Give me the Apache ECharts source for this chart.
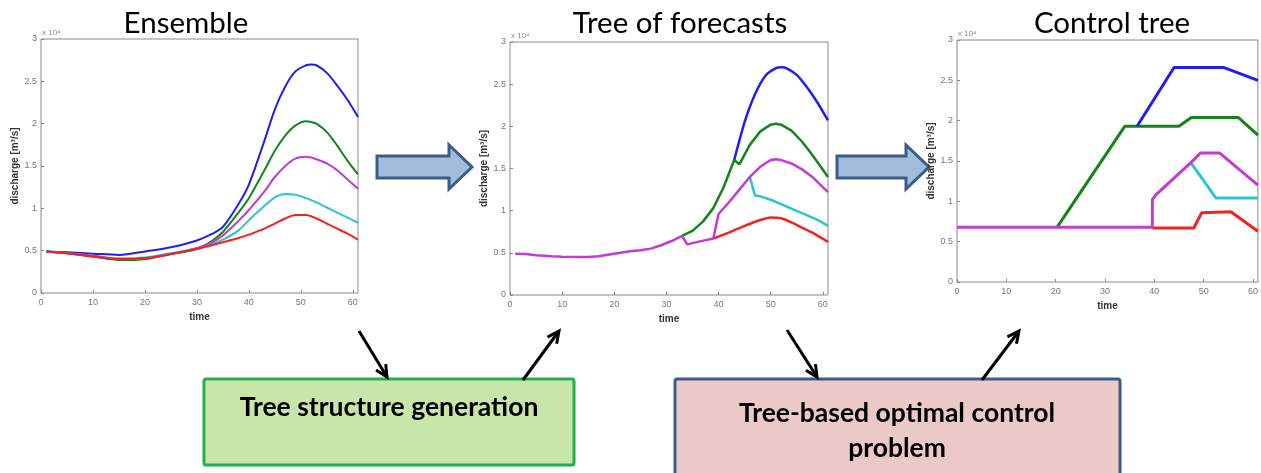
<!DOCTYPE html>
<html lang="en">
<head>
    <meta charset="UTF-8">
    <script src="https://cdn.jsdelivr.net/npm/echarts@6.0.0/dist/echarts.min.js"></script>
    <style>
        html, body { margin: 0; padding: 0; background: #fff; }
    </style>
</head>
<body>
<div id="main" style="width: 1261px;height:473px;"></div>
<script type="text/javascript">

    // panel titles and axis ticks
    var panelTitles = ["Ensemble", "Tree of forecasts", "Control tree"];
    var yTicks = [0, 0.5, 1, 1.5, 2, 2.5, 3];   // x 10^4 m3/s
    var xTicks = [0, 10, 20, 30, 40, 50, 60];

    // Ensemble forecasts [time, discharge x1e4]
    var ensBlue = [[1,0.49],[5,0.48],[10,0.465],[15,0.45],[20,0.49],[25,0.54],[30,0.62],[33,0.70],[35,0.78],[38,1.05],[40,1.28],[43,1.80],[45,2.17],[47,2.44],[49,2.62],[51,2.69],[52,2.70],[53,2.69],[55,2.60],[57,2.45],[59,2.28],[61,2.08]];
    var ensGreen = [[1,0.49],[5,0.47],[10,0.43],[15,0.39],[20,0.40],[25,0.46],[30,0.52],[33,0.62],[35,0.72],[38,0.95],[40,1.12],[43,1.45],[45,1.68],[47,1.86],[49,1.98],[51,2.03],[52,2.02],[53,2.00],[55,1.90],[57,1.74],[59,1.56],[61,1.40]];
    var ensCyan = [[1,0.49],[5,0.47],[10,0.44],[15,0.41],[20,0.42],[25,0.47],[30,0.53],[33,0.58],[35,0.63],[38,0.74],[40,0.86],[43,1.03],[45,1.13],[47,1.17],[49,1.16],[51,1.12],[53,1.07],[55,1.01],[57,0.95],[59,0.89],[61,0.83]];
    var ensMagenta = [[1,0.49],[5,0.47],[10,0.44],[15,0.40],[20,0.41],[25,0.46],[30,0.53],[33,0.60],[35,0.68],[38,0.85],[40,0.98],[43,1.20],[45,1.37],[47,1.50],[49,1.59],[51,1.61],[52,1.60],[53,1.58],[55,1.53],[57,1.45],[59,1.34],[61,1.23]];
    var ensRed = [[1,0.49],[5,0.47],[10,0.43],[15,0.40],[20,0.41],[25,0.46],[30,0.52],[35,0.60],[38,0.65],[40,0.69],[43,0.76],[45,0.82],[47,0.88],[49,0.92],[51,0.92],[53,0.88],[55,0.82],[57,0.76],[59,0.70],[61,0.63]];

    // Tree of forecasts: each branch starts where it leaves its parent
    var treeBlue = [[43,1.60],[45,2.05],[47,2.38],[49,2.60],[51,2.69],[52,2.70],[53,2.69],[55,2.61],[57,2.46],[59,2.28],[61,2.07]];
    var treeGreen = [[33,0.70],[35,0.76],[37,0.87],[39,1.03],[41,1.28],[43,1.60],[44,1.55],[46,1.78],[48,1.94],[50,2.02],[51,2.03],[52,2.02],[54,1.95],[56,1.82],[58,1.66],[61,1.40]];
    var treeRed = [[39,0.67],[42,0.74],[45,0.82],[48,0.89],[50,0.92],[52,0.91],[54,0.86],[56,0.80],[58,0.74],[61,0.63]];
    var treeCyan = [[46,1.40],[47,1.18],[48,1.17],[50,1.13],[53,1.05],[56,0.97],[59,0.89],[61,0.82]];
    var treeMagenta = [[1,0.49],[3,0.485],[5,0.47],[8,0.46],[10,0.455],[13,0.45],[15,0.45],[17,0.46],[20,0.49],[23,0.52],[25,0.53],[27,0.55],[29,0.59],[31,0.64],[33,0.70],[34,0.60],[36,0.63],[39,0.67],[40,0.96],[42,1.10],[44,1.25],[46,1.40],[48,1.52],[50,1.60],[51,1.61],[52,1.60],[54,1.56],[56,1.49],[58,1.40],[60,1.28],[61,1.22]];

    // Control tree (piecewise linear releases)
    var ctrlGreen = [[20.3,0.68],[34,1.93],[45,1.93],[47.5,2.04],[57,2.04],[61,1.82]];
    var ctrlBlue = [[36.5,1.93],[44,2.66],[54,2.66],[61,2.50]];
    var ctrlRed = [[39.6,0.67],[48,0.67],[49.6,0.86],[55.5,0.87],[61,0.63]];
    var ctrlCyan = [[47.4,1.48],[52.5,1.04],[61,1.04]];
    var ctrlMagenta = [[0,0.68],[39.6,0.68],[39.6,1.02],[40.3,1.08],[47.4,1.48],[49.4,1.60],[53.2,1.60],[61,1.20]];

    var colors = { blue: "#1f1ff5", green: "#13851a", red: "#f52020", cyan: "#2cc6c9", magenta: "#c23ccf" };

    var grids = [
        { left: 41, top: 39, width: 317, height: 254 },
        { left: 510, top: 42, width: 318, height: 253 },
        { left: 957, top: 40, width: 302, height: 242 }
    ];

    const chart = echarts.init(document.getElementById("main"));

    function makeXAxis(i) {
        return {
            type: "value", gridIndex: i, min: 0, max: 61, interval: 10,
            name: "time", nameLocation: "middle", nameGap: 18,
            nameTextStyle: { fontSize: 10, color: "#333", fontWeight: "bold", fontFamily: "Liberation Sans" },
            axisLine: { show: false },
            axisTick: { show: true, inside: true, length: 3, lineStyle: { color: "#888" } },
            axisLabel: { showMaxLabel: false, fontSize: 9, color: "#777", margin: 5, fontFamily: "Liberation Sans" },
            splitLine: { show: false }
        };
    }
    function makeYAxis(i) {
        return {
            type: "value", gridIndex: i, min: 0, max: 3, interval: 0.5,
            name: "discharge [m³/s]", nameLocation: "middle", nameGap: 20, nameRotate: 90,
            nameTextStyle: { fontSize: 10, color: "#333", fontWeight: "bold", fontFamily: "Liberation Sans" },
            axisLine: { show: false },
            axisTick: { show: true, inside: true, length: 3, lineStyle: { color: "#888" } },
            axisLabel: { fontSize: 9, color: "#777", margin: 4, fontFamily: "Liberation Sans",
                formatter: function (v) { return yTicks.indexOf(v) >= 0 ? String(v) : ""; } },
            splitLine: { show: false }
        };
    }
    function makeLine(i, data, color, width, smooth) {
        return {
            type: "line", xAxisIndex: i, yAxisIndex: i, data: data,
            showSymbol: false, smooth: smooth, silent: true,
            lineStyle: { color: color, width: width }
        };
    }

    // small black arrow with an open head
    function smallArrow(x1, y1, x2, y2) {
        var ang = Math.atan2(y2 - y1, x2 - x1);
        var hl = 13, ha = 0.45;
        var p1 = [x2 - hl * Math.cos(ang - ha), y2 - hl * Math.sin(ang - ha)];
        var p2 = [x2 - hl * Math.cos(ang + ha), y2 - hl * Math.sin(ang + ha)];
        return [
            { type: "line", shape: { x1: x1, y1: y1, x2: x2, y2: y2 }, style: { stroke: "#000", lineWidth: 3 } },
            { type: "polyline", shape: { points: [p1, [x2, y2], p2] }, style: { stroke: "#000", lineWidth: 3, fill: null } }
        ];
    }
    function blockArrow(x0, xh, xt, yc) {
        return {
            type: "polygon",
            shape: { points: [[x0, yc - 11], [xh, yc - 11], [xh, yc - 22], [xt, yc], [xh, yc + 22], [xh, yc + 11], [x0, yc + 11]] },
            style: { fill: "#a3bcdc", stroke: "#3b5d87", lineWidth: 3 }
        };
    }

    var titleCenters = [181, 675, 1107];
    var x10pos = [[42, 29], [511, 32], [958, 30]];

    var graphics = [
        blockArrow(377, 449, 472, 167),
        blockArrow(837, 906, 929, 167),
        { type: "rect", shape: { x: 204, y: 379, width: 370, height: 86, r: 2 },
          style: { fill: "#c9e5a9", stroke: "#20b14a", lineWidth: 3 } },
        { type: "text", x: 389, y: 407, style: { text: "Tree structure generation", font: "bold 26.5px Lato", fill: "#000", textAlign: "center", textVerticalAlign: "middle" } },
        { type: "rect", shape: { x: 675, y: 379, width: 445, height: 110, r: 2 },
          style: { fill: "#ecc9c9", stroke: "#3b5d87", lineWidth: 3 } },
        { type: "text", x: 897, y: 413, style: { text: "Tree-based optimal control", font: "bold 26.5px Lato", fill: "#000", textAlign: "center", textVerticalAlign: "middle" } },
        { type: "text", x: 897, y: 448, style: { text: "problem", font: "bold 26.5px Lato", fill: "#000", textAlign: "center", textVerticalAlign: "middle" } }
    ];
    graphics = graphics
        .concat(smallArrow(359, 331, 387, 377))
        .concat(smallArrow(523, 380, 559, 331))
        .concat(smallArrow(787, 330, 817, 377))
        .concat(smallArrow(982, 380, 1019, 331));
    x10pos.forEach(function (p) {
        graphics.push({ type: "text", x: p[0], y: p[1], style: { text: "x 10⁴", font: "8px Liberation Sans", fill: "#888" } });
    });

    var option = {
        animation: false,
        backgroundColor: "#fff",
        title: panelTitles.map(function (t, i) {
            return { text: t, left: titleCenters[i], top: 3, textAlign: "center",
                textStyle: { fontSize: 29.5, fontWeight: "normal", color: "#000", fontFamily: "Lato" } };
        }),
        grid: grids.map(function (g) {
            return Object.assign({ show: true, borderColor: "#8a8a8a", borderWidth: 1, backgroundColor: "#fff" }, g);
        }),
        xAxis: [0, 1, 2].map(makeXAxis),
        yAxis: [0, 1, 2].map(makeYAxis),
        series: [
            makeLine(0, ensBlue, colors.blue, 2, 0.3),
            makeLine(0, ensGreen, colors.green, 2, 0.3),
            makeLine(0, ensCyan, colors.cyan, 2, 0.3),
            makeLine(0, ensMagenta, colors.magenta, 2, 0.3),
            makeLine(0, ensRed, colors.red, 2, 0.3),
            makeLine(1, treeBlue, colors.blue, 2.5, 0.2),
            makeLine(1, treeGreen, colors.green, 2.5, false),
            makeLine(1, treeRed, colors.red, 2.5, 0.2),
            makeLine(1, treeCyan, colors.cyan, 2.5, false),
            makeLine(1, treeMagenta, colors.magenta, 2.5, false),
            makeLine(2, ctrlGreen, colors.green, 3, false),
            makeLine(2, ctrlBlue, colors.blue, 3, false),
            makeLine(2, ctrlRed, colors.red, 3, false),
            makeLine(2, ctrlCyan, colors.cyan, 3, false),
            makeLine(2, ctrlMagenta, colors.magenta, 3, false)
        ],
        graphic: graphics
    };
    chart.setOption(option);
</script>
</body>
</html>
